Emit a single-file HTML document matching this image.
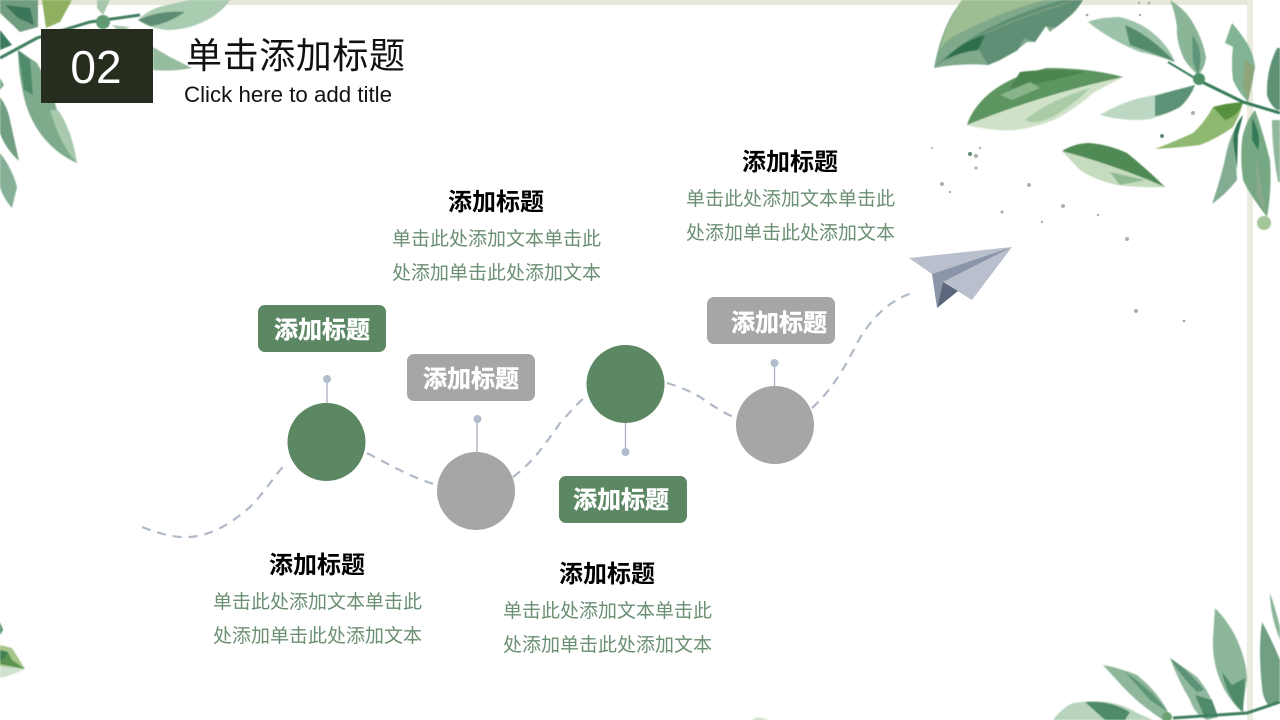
<!DOCTYPE html>
<html lang="zh">
<head>
<meta charset="utf-8">
<title>单击添加标题</title>
<style>
html,body{margin:0;padding:0;background:#fff;width:1280px;height:720px;overflow:hidden}
svg{display:block}
text{font-family:"Liberation Sans","Noto Sans CJK SC",sans-serif}
.h{font-size:24px;font-weight:700;fill:#000;text-anchor:middle}
.w{font-size:24px;font-weight:700;fill:#fff;stroke:#fff;stroke-width:.4;text-anchor:middle}
.b{font-size:19px;fill:#6b8f72;text-anchor:middle}
.dash{fill:none;stroke:#b0b9c8;stroke-width:2.2;stroke-dasharray:9 7}
.stem{stroke:#a9b1bf;stroke-width:1.3}
.dot{fill:#b0bccb}
.speck{fill:#a7b3a8}
</style>
</head>
<body>
<svg width="1280" height="720" viewBox="0 0 1280 720" xmlns="http://www.w3.org/2000/svg">
<defs><filter id="s" x="-5%" y="-5%" width="110%" height="110%"><feGaussianBlur stdDeviation="0.5"/></filter></defs>
<rect width="1280" height="720" fill="#fff"/>
<!-- frame -->
<rect x="0" y="0" width="1253" height="5" fill="#e6e9da"/>
<rect x="1247" y="0" width="6" height="720" fill="#e9ecdf"/>

<g filter="url(#s)">
<!-- top right: banana leaf -->
<path d="M934 68Q940 35 953 13L962 0H1083Q1075 15 1060 23L1050 32L1046 26L1035 42L1027 42Q1015 52 1000 60L988 65Q960 63 934 68Z" fill="#7fa98a"/>
<path d="M934 68Q975 25 1062 0H1083Q1070 18 1055 28L1046 26L1035 42L1024 38L1018 50L1000 60L988 65L978 48Q955 50 934 68Z" fill="#5f9074"/>
<path d="M962 0H1045Q1000 12 962 32Q945 40 940 50Q945 25 962 0Z" fill="#9dbd93"/>
<path d="M945 60Q960 42 985 35L978 50Q960 52 945 60Z" fill="#2f6e4e"/>
<path d="M980 35Q1030 12 1075 0L1060 6Q1020 18 990 32Z" fill="#7d9f7e"/>
<!-- broad leaf -->
<path d="M1123 77Q1090 68 1047 68Q1000 78 978 105Q970 115 967 125Q995 132 1017 130Q1045 125 1060 117Q1080 105 1093 93Q1108 85 1123 77Z" fill="#cfe2c8"/>
<path d="M1123 77Q1090 68 1047 68Q1000 78 978 105Q970 115 967 125Q1040 95 1123 77Z" fill="#5c9560"/>
<path d="M1020 72Q1050 68 1085 72Q1050 82 1010 88Z" fill="#4b8450"/>
<path d="M1000 95L1030 82L1040 88L1012 100Z" fill="#8ab48a"/>
<path d="M1025 120Q1050 100 1090 88Q1070 108 1050 118Q1035 125 1025 120Z" fill="#a9cba6"/>
<!-- lower small leaf -->
<path d="M1062 151Q1075 143 1090 143Q1110 145 1127 153Q1148 170 1165 187Q1140 188 1117 185Q1095 180 1080 170Z" fill="#c5dcbf"/>
<path d="M1062 151Q1075 143 1090 143Q1110 145 1127 153Q1148 170 1165 187Q1115 165 1062 151Z" fill="#4f8a55"/>
<path d="M1110 172L1145 180L1120 185Z" fill="#8fb98f"/>
<!-- branch leaves -->
<path d="M1088 22Q1100 17 1120 17Q1140 22 1153 33Q1168 45 1175 62Q1155 55 1140 52Q1110 40 1088 22Z" fill="#9cc3a9"/>
<path d="M1125 25Q1150 35 1175 62Q1150 52 1130 45Z" fill="#528b6c"/>
<path d="M1170 0Q1186 10 1193 23Q1203 40 1206 57Q1205 68 1198 75Q1187 65 1183 57Q1176 40 1177 27Q1175 12 1170 0Z" fill="#8ab597"/>
<path d="M1192 35Q1205 50 1198 75L1193 62Z" fill="#5d9578"/>
<path d="M1100 115Q1120 103 1140 98Q1170 92 1195 85Q1190 98 1180 107Q1165 115 1150 119Q1125 122 1100 115Z" fill="#bcd8c3"/>
<path d="M1155 96Q1175 90 1195 85Q1190 98 1180 107Q1165 115 1155 116Z" fill="#5b9274"/>
<path d="M1232 23Q1240 32 1247 43Q1254 55 1255 67Q1252 85 1248 102Q1238 92 1233 80Q1231 62 1233 47L1225 43Z" fill="#82b394"/>
<path d="M1245 60L1255 67L1248 102L1243 85Z" fill="#8ea57a"/>
<path d="M1155 149Q1178 140 1193 133Q1205 122 1213 107Q1228 103 1243 102Q1240 115 1233 127Q1218 138 1200 145Q1175 148 1155 149Z" fill="#8fb86f"/>
<path d="M1213 107Q1228 103 1243 102Q1240 115 1225 120Z" fill="#56913f"/>
<path d="M1255 110Q1264 135 1270 160Q1272 190 1267 217Q1250 195 1243 180Q1240 160 1242 140Q1245 122 1255 110Z" fill="#76a884"/>
<path d="M1252 118Q1262 135 1258 150L1252 140Z" fill="#317a58"/>
<path d="M1255 150L1262 190L1267 217L1257 195Z" fill="#8aa98a"/>
<path d="M1243 115Q1234 125 1233 140Q1236 160 1237 180Q1225 195 1212 204Q1222 175 1227 150Q1232 130 1243 115Z" fill="#83ad93"/>
<path d="M1243 115Q1234 125 1233 140L1237 170L1238 135Z" fill="#2f7553"/>
<path d="M1277 48Q1266 70 1267 95Q1270 105 1277 110H1280V48Z" fill="#5d9274"/>
<path d="M1272 120Q1272 150 1278 182H1280V120Z" fill="#8fb79c"/>
<path d="M1168 62L1198 80" fill="none" stroke="#357a58" stroke-width="2"/>
<path d="M1198 80L1243 102L1280 113" fill="none" stroke="#357a58" stroke-width="3"/>
<circle cx="1199" cy="79" r="6" fill="#4f9068"/>
<circle cx="1264" cy="223" r="7" fill="#a3c69a"/>

<!-- top left -->
<path d="M0 0H38V27L20 32L0 13Z" fill="#6f9c80"/>
<path d="M5 5L30 8L34 25L18 18Z" fill="#3b7658"/>
<path d="M42 0H72L60 22L46 28Z" fill="#8fb05f"/>
<path d="M0 30L12 45L0 50Z" fill="#3a7a5b"/>
<path d="M138 20Q150 8 167 5L190 0H230Q222 12 207 20Q188 30 167 30Q148 28 138 20Z" fill="#a9cbb0"/>
<path d="M138 20Q160 10 185 12Q165 25 150 26Z" fill="#5b8d72"/>
<path d="M97 0H110L103 15L97 8Z" fill="#a6c7ab"/>
<path d="M0 58L37 38L90 22L140 15" fill="none" stroke="#3f7f60" stroke-width="3"/>
<circle cx="103" cy="22" r="7" fill="#5f9a72"/>
<path d="M153 47L170 57L192 68Q172 72 153 70Z" fill="#96bca0"/>
<path d="M112 25L130 27L120 32Z" fill="#a6c7ab"/>
<path d="M18 50L37 63Q50 85 57 110Q70 135 77 163Q58 155 43 137Q28 118 23 93Q18 70 18 50Z" fill="#7dab8c"/>
<path d="M18 50L30 60L33 95L24 90Z" fill="#4f8b6b"/>
<path d="M50 110H58Q72 130 77 163Q60 145 50 110Z" fill="#a8c9ae"/>
<path d="M0 97Q8 108 10 120L19 161Q5 148 0 133Z" fill="#6f9f82"/>
<path d="M0 153Q12 168 17 187L12 208Q3 198 0 187Z" fill="#85b095"/>
<path d="M0 78L4 85L0 90Z" fill="#7da98b"/>

<!-- bottom right -->
<path d="M1215 608Q1232 625 1240 647Q1247 665 1247 680L1242 712Q1227 698 1220 680Q1212 660 1213 637Z" fill="#8db79b"/>
<path d="M1222 672L1232 685L1245 678L1243 712Q1228 700 1222 672Z" fill="#4f8b6b"/>
<path d="M1170 658Q1185 668 1197 677Q1212 695 1218 717L1207 720Q1195 715 1190 700Q1178 680 1170 658Z" fill="#8fb89e"/>
<path d="M1170 658Q1190 672 1204 690L1197 692Q1180 675 1170 658Z" fill="#5b9274"/>
<path d="M1195 695L1212 700L1218 717L1205 718Z" fill="#4f8b6b"/>
<path d="M1103 665Q1120 668 1137 675Q1158 692 1168 712L1163 720Q1140 705 1123 687Q1112 675 1103 665Z" fill="#8fb79b"/>
<path d="M1125 672Q1150 688 1168 712L1150 700Z" fill="#5f9678"/>
<path d="M1053 720Q1062 708 1073 703Q1090 700 1107 702Q1125 705 1137 713L1153 720Z" fill="#b8d4bd"/>
<path d="M1085 702Q1110 700 1130 712L1125 720H1105Z" fill="#4f8b6b"/>
<path d="M1262 622Q1272 640 1280 660V700L1270 707Q1263 700 1262 687Q1258 650 1262 622Z" fill="#6f9f82"/>
<path d="M1270 593Q1276 610 1280 627V640Q1270 615 1270 593Z" fill="#8db79b"/>
<path d="M1173 718L1247 713L1280 702" fill="none" stroke="#3f7f60" stroke-width="3"/>
<circle cx="1167" cy="717" r="5" fill="#6da26f"/>
<path d="M752 720Q758 715 768 720Z" fill="#cfe0cc"/>

<!-- bottom left -->
<path d="M0 622L3 630L0 635Z" fill="#4f8a64"/>
<path d="M0 645L12 648L25 669Q14 674 0 678Z" fill="#a7c58a"/>
<path d="M0 650L8 652L12 660L25 669L0 664Z" fill="#5a9350"/>
<path d="M0 650L8 652L4 658L0 660Z" fill="#3f7f52"/>
<path d="M0 666L25 669L10 675L0 678Z" fill="#cfe2d0"/>
</g>

<!-- specks -->
<g class="speck">
<circle cx="932" cy="148" r="1"/><circle cx="970" cy="154" r="2" fill="#5f8a72"/><circle cx="976" cy="156" r="2"/><circle cx="980" cy="148" r="1.2"/><circle cx="976" cy="168" r="1.6"/>
<circle cx="942" cy="184" r="2"/><circle cx="950" cy="192" r="1.2"/><circle cx="1002" cy="212" r="1.5"/><circle cx="1029" cy="185" r="2"/><circle cx="1063" cy="206" r="2"/><circle cx="1042" cy="222" r="1.2"/><circle cx="1098" cy="215" r="1.2"/><circle cx="1127" cy="239" r="2"/><circle cx="1136" cy="311" r="2"/><circle cx="1184" cy="321" r="1.4"/><circle cx="1162" cy="136" r="2" fill="#6a8a78"/><circle cx="1193" cy="113" r="2"/><circle cx="1087" cy="15" r="1.4"/><circle cx="1140" cy="15" r="1.2"/><circle cx="1139" cy="3" r="1.2"/><circle cx="1149" cy="3" r="1.4"/>
</g>

<!-- dashed route -->
<path class="dash" d="M142 527C160 534 175 538 190 537C215 535 235 520 250 507C265 492 275 475 287 462"/>
<path class="dash" d="M367 453C390 465 412 478 437 485"/>
<path class="dash" d="M513 477C530 465 545 445 560 423C570 412 578 403 587 395"/>
<path class="dash" d="M667 383C680 387 690 391 700 397C712 405 723 413 736 418"/>
<path class="dash" d="M812 408C830 392 845 368 857 343C870 320 888 300 915 292"/>

<!-- paper plane -->
<polygon points="909,258 1012,247 932,274" fill="#b9bfcd"/>
<polygon points="1012,247 972,300 943,282" fill="#b9bfcd"/>
<polygon points="1012,247 932,274 937,308 943,282" fill="#8b95a9"/>
<polygon points="943,282 958,291 937,308" fill="#5c677d"/>

<!-- stems -->
<line class="stem" x1="327" y1="379" x2="327" y2="404"/><circle class="dot" cx="327" cy="379" r="4"/>
<line class="stem" x1="477" y1="419" x2="477" y2="453"/><circle class="dot" cx="477.5" cy="419" r="4"/>
<line class="stem" x1="625.5" y1="422" x2="625.5" y2="452"/><circle class="dot" cx="625.5" cy="452" r="4"/>
<line class="stem" x1="774.5" y1="363" x2="774.5" y2="387"/><circle class="dot" cx="774.5" cy="363" r="4"/>

<!-- circles -->
<circle cx="326.5" cy="442" r="39" fill="#5b8763"/>
<circle cx="476" cy="491" r="39" fill="#a6a6a6"/>
<circle cx="625.5" cy="384" r="39" fill="#5b8763"/>
<circle cx="775" cy="425" r="39" fill="#a6a6a6"/>

<!-- boxes -->
<rect x="258" y="305" width="128" height="47" rx="7" fill="#5b8763"/>
<rect x="407" y="354" width="128" height="47" rx="7" fill="#a6a6a6"/>
<rect x="559" y="476" width="128" height="47" rx="7" fill="#5b8763"/>
<rect x="707" y="297" width="128" height="47" rx="7" fill="#a6a6a6"/>
<text class="w" x="322" y="338">添加标题</text>
<text class="w" x="471" y="387">添加标题</text>
<text class="w" x="621" y="508">添加标题</text>
<text class="w" x="779" y="331">添加标题</text>

<!-- header -->
<rect x="41" y="29" width="112" height="74" fill="#262c1e"/>
<text x="96" y="83" font-size="46" fill="#fff" text-anchor="middle">02</text>
<text x="186" y="68" font-size="36" fill="#111" textLength="219" lengthAdjust="spacing">单击添加标题</text>
<text x="184" y="102" font-size="22" fill="#111" textLength="208" lengthAdjust="spacingAndGlyphs">Click here to add title</text>

<!-- text blocks -->
<text class="h" x="496" y="210">添加标题</text>
<text class="b" x="496.5" y="245">单击此处添加文本单击此</text>
<text class="b" x="496.5" y="279">处添加单击此处添加文本</text>

<text class="h" x="790" y="170">添加标题</text>
<text class="b" x="790.5" y="205">单击此处添加文本单击此</text>
<text class="b" x="790.5" y="239">处添加单击此处添加文本</text>

<text class="h" x="317" y="573">添加标题</text>
<text class="b" x="317.5" y="608">单击此处添加文本单击此</text>
<text class="b" x="317.5" y="642">处添加单击此处添加文本</text>

<text class="h" x="607" y="582">添加标题</text>
<text class="b" x="607.5" y="617">单击此处添加文本单击此</text>
<text class="b" x="607.5" y="651">处添加单击此处添加文本</text>
</svg>
</body>
</html>
